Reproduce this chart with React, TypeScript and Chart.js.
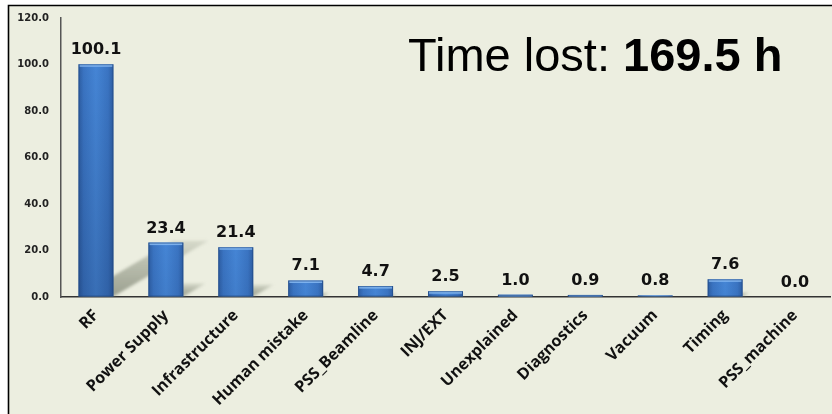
import React, { useEffect, useRef } from "react";
import { Chart, registerables } from "chart.js";

Chart.register(...registerables);

const categories = [
  "RF",
  "Power Supply",
  "Infrastructure",
  "Human mistake",
  "PSS_Beamline",
  "INJ/EXT",
  "Unexplained",
  "Diagnostics",
  "Vacuum",
  "Timing",
  "PSS_machine",
];
const hoursLost = [100.1, 23.4, 21.4, 7.1, 4.7, 2.5, 1.0, 0.9, 0.8, 7.6, 0.0];
const yTicks = [0, 20, 40, 60, 80, 100, 120];
const totalLabel = "169.5 h";

const BG = "#eceee0";
const LABEL_FONT = "'DejaVu Sans', sans-serif";
const CATEGORY_FONT = "'Open Sans', sans-serif";

// Page frame: white margin, beige panel, black top/left rule
const framePlugin = {
  id: "frame",
  beforeDraw(chart: any) {
    const { ctx, width, height } = chart;
    ctx.save();
    ctx.fillStyle = "#ffffff";
    ctx.fillRect(0, 0, width, height);
    ctx.fillStyle = BG;
    ctx.fillRect(8, 5, width - 8, height - 5);
    ctx.strokeStyle = "#000";
    ctx.lineWidth = 1.6;
    ctx.beginPath();
    ctx.moveTo(8.5, height);
    ctx.lineTo(8.5, 5.5);
    ctx.lineTo(width, 5.5);
    ctx.stroke();
    ctx.restore();
  },
};

// Soft diagonal drop shadows cast to the right of every bar
const shadowPlugin = {
  id: "barShadows",
  beforeDatasetsDraw(chart: any) {
    const { ctx, chartArea } = chart;
    const meta = chart.getDatasetMeta(0);
    ctx.save();
    ctx.beginPath();
    ctx.rect(chartArea.left, chartArea.top, chartArea.right - chartArea.left, chartArea.bottom - chartArea.top);
    ctx.clip();
    ctx.filter = "blur(1.5px)";
    meta.data.forEach((bar: any) => {
      const { x, y, base, width } = bar.getProps(["x", "y", "base", "width"], true);
      const barH = base - y;
      if (barH < 2) return;
      const h = barH * 0.24;
      const dx = h * 1.7;
      const l = x - width / 2;
      const r = x + width / 2;
      const g = ctx.createLinearGradient(0, base, 0, base - h);
      g.addColorStop(0, "rgba(120,126,108,0.7)");
      g.addColorStop(0.6, "rgba(135,141,123,0.5)");
      g.addColorStop(1, "rgba(150,156,138,0.25)");
      ctx.fillStyle = g;
      ctx.beginPath();
      ctx.moveTo(l, base);
      ctx.lineTo(r, base);
      ctx.lineTo(r + dx, base - h);
      ctx.lineTo(l + dx, base - h);
      ctx.closePath();
      ctx.fill();
    });
    ctx.restore();
  },
};

// Bevel shading on the bars, value labels and the total
const overlayPlugin = {
  id: "overlay",
  afterDatasetsDraw(chart: any) {
    const { ctx } = chart;
    const meta = chart.getDatasetMeta(0);
    ctx.save();
    meta.data.forEach((bar: any, i: number) => {
      const { x, y, base, width } = bar.getProps(["x", "y", "base", "width"], true);
      const l = x - width / 2;
      const barH = base - y;
      if (barH > 1.5) {
        const vg = ctx.createLinearGradient(0, y, 0, base);
        vg.addColorStop(0, "rgba(0,10,40,0)");
        vg.addColorStop(1, `rgba(0,10,40,${Math.min(0.18, barH / 900)})`);
        ctx.fillStyle = vg;
        ctx.fillRect(l, y, width, barH);
        ctx.fillStyle = "rgba(140,190,245,0.8)";
        ctx.fillRect(l + 1, y, width - 2, Math.min(2.5, barH));
        ctx.strokeStyle = "rgba(30,70,130,0.6)";
        ctx.lineWidth = 1;
        ctx.strokeRect(l + 0.5, y + 0.5, width - 1, barH - 1);
      }
      ctx.fillStyle = "#111";
      ctx.font = `bold 16px ${LABEL_FONT}`;
      ctx.textAlign = "center";
      ctx.textBaseline = "alphabetic";
      ctx.fillText(hoursLost[i].toFixed(1), x, y - 10);
    });

    // "Time lost: 169.5 h"
    const prefix = "Time lost: ";
    ctx.textAlign = "left";
    ctx.fillStyle = "#000";
    ctx.font = "47px 'Liberation Sans', Arial, sans-serif";
    const startX = 408;
    const baseY = 71;
    ctx.fillText(prefix, startX, baseY);
    const w = ctx.measureText(prefix).width;
    ctx.font = "bold 47px 'Liberation Sans', Arial, sans-serif";
    ctx.fillText(totalLabel, startX + w, baseY);
    ctx.restore();
  },
};

export default function App() {
  const canvasRef = useRef<HTMLCanvasElement | null>(null);

  useEffect(() => {
    const canvas = canvasRef.current;
    if (!canvas) return;
    const chart = new Chart(canvas, {
      type: "bar",
      data: {
        labels: categories,
        datasets: [
          {
            data: hoursLost,
            barPercentage: 0.5,
            categoryPercentage: 1.0,
            backgroundColor: (c: any) => {
              const ch = c.chart;
              const xs = ch.scales && ch.scales.x;
              if (!ch.chartArea || !xs) return "#3b78c8";
              const cx = xs.getPixelForValue(c.dataIndex);
              const half = (xs.width / categories.length) * 0.25;
              const g = ch.ctx.createLinearGradient(cx - half, 0, cx + half, 0);
              g.addColorStop(0, "#2d5da2");
              g.addColorStop(0.15, "#3a74c2");
              g.addColorStop(0.5, "#4585d5");
              g.addColorStop(0.85, "#3a74c2");
              g.addColorStop(1, "#2d5da2");
              return g;
            },
            borderWidth: 0,
          },
        ],
      },
      options: {
        responsive: false,
        animation: false,
        devicePixelRatio: 1,
        layout: { padding: { top: 18, right: 2, left: 0, bottom: 0 } },
        plugins: {
          legend: { display: false },
          title: { display: false },
          tooltip: { enabled: false },
        },
        scales: {
          x: {
            grid: { display: true, color: "rgba(0,0,0,0)", drawTicks: false },
            border: { display: true, color: "#333", width: 1.5 },
            ticks: {
              autoSkip: false,
              minRotation: 45,
              maxRotation: 45,
              padding: 9,
              color: "#111",
              font: { family: CATEGORY_FONT, size: 16, weight: "bold" },
            },
            afterFit(scale: any) {
              scale.height = 117;
            },
          },
          y: {
            min: 0,
            max: 120,
            afterBuildTicks(scale: any) {
              scale.ticks = yTicks.map((v) => ({ value: v }));
            },
            grid: { display: true, color: "rgba(0,0,0,0)", drawTicks: false },
            border: { display: true, color: "#555", width: 1.5 },
            ticks: {
              padding: 12,
              color: "#222",
              font: { family: LABEL_FONT, size: 10, weight: "bold" },
              callback: (v: any) => Number(v).toFixed(1),
            },
            afterFit(scale: any) {
              scale.width = 61;
            },
          },
        },
      },
      plugins: [framePlugin, shadowPlugin, overlayPlugin],
    });
    return () => chart.destroy();
  }, []);

  return (
    <div style={{ position: "fixed", left: 0, top: 0, width: 832, height: 414 }}>
      <canvas ref={canvasRef} width={832} height={414} style={{ display: "block" }} />
    </div>
  );
}
